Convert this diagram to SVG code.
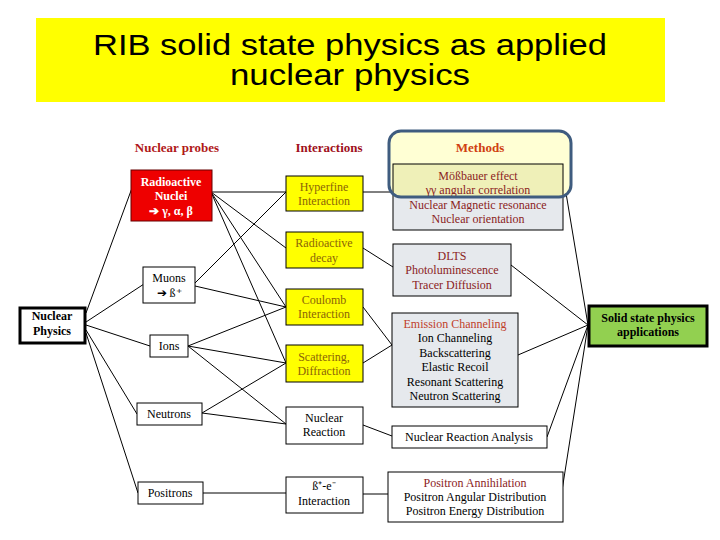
<svg xmlns="http://www.w3.org/2000/svg" width="720" height="540" viewBox="0 0 720 540">
<style>
.t{font-family:"Liberation Serif","Times New Roman",serif;font-size:12px;text-anchor:middle}
.b{stroke:#000;stroke-width:1;fill:#fff}
.y{stroke:#000;stroke-width:1;fill:#ffff00}
.g{stroke:#000;stroke-width:1;fill:#e6e9ed}
.yt{fill:#8b6508}
.rt{fill:#8b2323}
.hd{font-family:"Liberation Serif","Times New Roman",serif;font-size:13px;font-weight:bold;text-anchor:middle}
.ti{font-family:"Liberation Sans",Arial,sans-serif;font-size:30px;text-anchor:middle}
#conn line{stroke:#000;stroke-width:1}
</style>
<defs>
<linearGradient id="hl" x1="0" y1="164" x2="0" y2="230" gradientUnits="userSpaceOnUse">
<stop offset="0" stop-color="#eff0b8"/>
<stop offset="0.5" stop-color="#eff0b8"/>
<stop offset="0.5" stop-color="#e6e9ed"/>
<stop offset="1" stop-color="#e6e9ed"/>
</linearGradient>
</defs>
<rect width="720" height="540" fill="#fff"/>
<g id="title">
<rect x="36" y="18" width="629" height="84" fill="#ffff00"/>
<text class="ti" x="350" y="55" textLength="514" lengthAdjust="spacingAndGlyphs">RIB solid state physics as applied</text>
<text class="ti" x="350" y="85" textLength="240" lengthAdjust="spacingAndGlyphs">nuclear physics</text>
</g>
<g id="conn">
<line x1="86" y1="313" x2="132" y2="188"/>
<line x1="86" y1="322" x2="144" y2="284"/>
<line x1="86" y1="325" x2="150" y2="346"/>
<line x1="86" y1="330" x2="137" y2="414"/>
<line x1="86" y1="333" x2="138" y2="493"/>
<line x1="211" y1="192" x2="286" y2="192"/>
<line x1="211" y1="192" x2="286" y2="248"/>
<line x1="211" y1="192" x2="286" y2="307"/>
<line x1="211" y1="192" x2="286" y2="363"/>
<line x1="195" y1="283" x2="286" y2="192"/>
<line x1="195" y1="286" x2="286" y2="307"/>
<line x1="188" y1="346" x2="286" y2="307"/>
<line x1="188" y1="346" x2="286" y2="363"/>
<line x1="188" y1="346" x2="286" y2="424"/>
<line x1="202" y1="413" x2="286" y2="363"/>
<line x1="202" y1="413" x2="286" y2="424"/>
<line x1="203" y1="493" x2="286" y2="493"/>
<line x1="363" y1="192" x2="393" y2="192"/>
<line x1="363" y1="248" x2="393" y2="267"/>
<line x1="363" y1="307" x2="392" y2="345"/>
<line x1="363" y1="363" x2="392" y2="345"/>
<line x1="363" y1="425" x2="392" y2="436"/>
<line x1="363" y1="494" x2="388" y2="494"/>
<line x1="565" y1="187" x2="588" y2="325"/>
<line x1="511" y1="265" x2="588" y2="325"/>
<line x1="518" y1="355" x2="588" y2="325"/>
<line x1="547" y1="437" x2="588" y2="325"/>
<line x1="561" y1="497" x2="588" y2="325"/>
</g>
<g id="headers">
<text class="hd" x="177" y="152" fill="#b01818">Nuclear probes</text>
<text class="hd" x="329" y="152" fill="#a01020">Interactions</text>
</g>
<g id="radioactive-nuclei">
<rect x="131" y="170" width="81" height="51" fill="#ee0000" stroke="#600" stroke-width="1"/>
<text class="t" x="171" y="186" fill="#fff" font-weight="bold">Radioactive</text>
<text class="t" x="171" y="200" fill="#fff" font-weight="bold">Nuclei</text>
<text class="t" x="171" y="215" fill="#fff" font-weight="bold">➔ γ, α, β</text>
</g>
<g id="muons">
<rect class="b" x="143" y="267" width="52" height="36"/>
<text class="t" x="169" y="282">Muons</text>
<text class="t" x="169" y="297">➔ ß⁺</text>
</g>
<g id="nuclear-physics">
<rect x="20" y="308" width="65" height="35" fill="#fff" stroke="#000" stroke-width="3"/>
<text class="t" x="52" y="320" font-weight="bold">Nuclear</text>
<text class="t" x="52" y="335" font-weight="bold">Physics</text>
</g>
<g id="ions">
<rect class="b" x="150" y="335" width="38" height="22"/>
<text class="t" x="169" y="350">Ions</text>
</g>
<g id="neutrons">
<rect class="b" x="137" y="403" width="65" height="22"/>
<text class="t" x="169" y="418">Neutrons</text>
</g>
<g id="positrons">
<rect class="b" x="138" y="482" width="65" height="22"/>
<text class="t" x="170" y="497">Positrons</text>
</g>
<g id="hyperfine">
<rect class="y" x="286" y="176" width="77" height="35"/>
<text class="t yt" x="324" y="191">Hyperfine</text>
<text class="t yt" x="324" y="205">Interaction</text>
</g>
<g id="radioactive-decay">
<rect class="y" x="286" y="232" width="77" height="36"/>
<text class="t yt" x="324" y="247">Radioactive</text>
<text class="t yt" x="324" y="262">decay</text>
</g>
<g id="coulomb">
<rect class="y" x="286" y="289" width="77" height="36"/>
<text class="t yt" x="324" y="304">Coulomb</text>
<text class="t yt" x="324" y="318">Interaction</text>
</g>
<g id="scattering">
<rect class="y" x="286" y="345" width="77" height="37"/>
<text class="t yt" x="324" y="361">Scattering,</text>
<text class="t yt" x="324" y="375">Diffraction</text>
</g>
<g id="nuclear-reaction">
<rect class="b" x="286" y="407" width="77" height="37"/>
<text class="t" x="324" y="422">Nuclear</text>
<text class="t" x="324" y="436">Reaction</text>
</g>
<g id="positron-interaction">
<rect class="b" x="286" y="477" width="77" height="36"/>
<text class="t" x="324" y="490">ß⁺-e⁻</text>
<text class="t" x="324" y="505">Interaction</text>
</g>
<g id="methods">
<rect x="389" y="131" width="182" height="66" rx="12" fill="#ffffd4"/>
<text class="hd" x="480" y="152" fill="#d04010">Methods</text>
</g>
<g id="hyperfine-methods">
<rect x="393" y="164" width="170" height="66" fill="url(#hl)" stroke="#000" stroke-width="1"/>
<text class="t rt" x="478" y="180">Mößbauer effect</text>
<text class="t rt" x="478" y="194">γγ  angular correlation</text>
<text class="t rt" x="478" y="209">Nuclear Magnetic resonance</text>
<text class="t rt" x="478" y="223">Nuclear orientation</text>
</g>
<g id="methods-frame">
<rect x="389" y="131" width="182" height="66" rx="12" fill="none" stroke="#3f5c7f" stroke-width="3"/>
</g>
<g id="dlts">
<rect class="g" x="393" y="244" width="118" height="52"/>
<text class="t rt" x="452" y="260">DLTS</text>
<text class="t rt" x="452" y="274">Photoluminescence</text>
<text class="t rt" x="452" y="289">Tracer Diffusion</text>
</g>
<g id="channeling">
<rect class="g" x="392" y="313" width="126" height="94"/>
<text class="t" x="455" y="328" fill="#c0402a">Emission Channeling</text>
<text class="t" x="455" y="342">Ion Channeling</text>
<text class="t" x="455" y="357">Backscattering</text>
<text class="t" x="455" y="371">Elastic Recoil</text>
<text class="t" x="455" y="386">Resonant Scattering</text>
<text class="t" x="455" y="400">Neutron Scattering</text>
</g>
<g id="nra">
<rect class="b" x="392" y="426" width="155" height="22"/>
<text class="t" x="469" y="441">Nuclear Reaction Analysis</text>
</g>
<g id="positron-methods">
<rect class="b" x="388" y="472" width="175" height="50"/>
<text class="t rt" x="475" y="487">Positron Annihilation</text>
<text class="t" x="475" y="501">Positron Angular Distribution</text>
<text class="t" x="475" y="515">Positron Energy Distribution</text>
</g>
<g id="solid-state">
<rect x="589" y="306" width="118" height="40" fill="#92d050" stroke="#000" stroke-width="3"/>
<text class="t" x="648" y="322" font-weight="bold">Solid state physics</text>
<text class="t" x="648" y="336" font-weight="bold">applications</text>
</g>
</svg>
